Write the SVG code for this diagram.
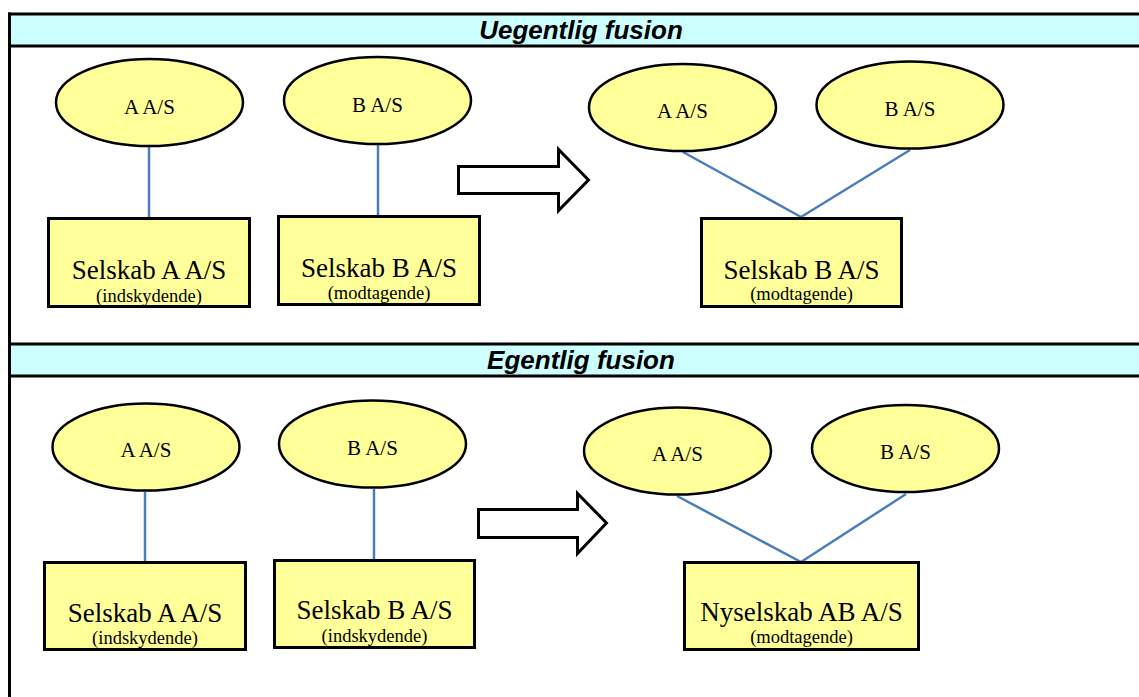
<svg xmlns="http://www.w3.org/2000/svg" width="1139" height="697" viewBox="0 0 1139 697">
  <style>
    .band { fill: #CCFFFF; stroke: none; }
    .rule { stroke: #000; stroke-width: 3; fill: none; }
    .title { font-family: "Liberation Sans", Arial, sans-serif; font-weight: bold; font-style: italic; font-size: 26px; fill: #000; text-anchor: middle; }
    .owner { fill: #FFFF99; stroke: #000; stroke-width: 2.5; }
    .company { fill: #FFFF99; stroke: #000; stroke-width: 3; }
    .lbl { font-family: "Liberation Serif", "Times New Roman", serif; font-size: 21px; fill: #000; text-anchor: middle; }
    .main { font-family: "Liberation Serif", "Times New Roman", serif; font-size: 27px; fill: #000; text-anchor: middle; }
    .sub { font-family: "Liberation Serif", "Times New Roman", serif; font-size: 18.5px; fill: #000; text-anchor: middle; }
    .link { stroke: #4A7EBB; stroke-width: 2.5; fill: none; }
    .arrow { fill: #FFFFFF; stroke: #000; stroke-width: 3; stroke-linejoin: miter; }
  </style>

  <rect width="1139" height="697" fill="#FFFFFF"/>

  <!-- Section frame and header bands -->
  <g id="frame">
    <rect class="band" x="9.5" y="14" width="1130" height="32"/>
    <rect class="band" x="9.5" y="344" width="1130" height="32"/>
    <line class="rule" x1="8" y1="14" x2="1139" y2="14"/>
    <line class="rule" x1="8" y1="46" x2="1139" y2="46"/>
    <line class="rule" x1="8" y1="344" x2="1139" y2="344"/>
    <line class="rule" x1="8" y1="376" x2="1139" y2="376"/>
    <line class="rule" x1="9.5" y1="12.5" x2="9.5" y2="697"/>
    <text class="title" x="581" y="39">Uegentlig fusion</text>
    <text class="title" x="581" y="369">Egentlig fusion</text>
  </g>

  <!-- Connectors -->
  <g id="connectors">
    <line class="link" x1="149" y1="147" x2="149" y2="217"/>
    <line class="link" x1="378" y1="145" x2="378" y2="215"/>
    <line class="link" x1="683" y1="152" x2="801" y2="217"/>
    <line class="link" x1="910" y1="150" x2="801" y2="217"/>
    <line class="link" x1="145" y1="492" x2="145" y2="561"/>
    <line class="link" x1="374" y1="489" x2="374" y2="559"/>
    <line class="link" x1="677" y1="496" x2="801" y2="562"/>
    <line class="link" x1="906" y1="494" x2="801" y2="562"/>
    <polygon id="arrow-top" class="arrow" points="458.5,166.5 558.5,166.5 558.5,149.5 588.5,180 558.5,210.5 558.5,193.5 458.5,193.5"/>
    <polygon id="arrow-bottom" class="arrow" points="478.5,509.5 577.5,509.5 577.5,493.5 606.5,523 577.5,553.5 577.5,537.5 478.5,537.5"/>
  </g>

  <!-- Uegentlig fusion: before -->
  <g id="u-owner-a">
    <ellipse class="owner" cx="149.5" cy="102.5" rx="93.5" ry="43.5"/>
    <text class="lbl" x="149.5" y="114">A A/S</text>
  </g>
  <g id="u-owner-b">
    <ellipse class="owner" cx="377.5" cy="100.5" rx="93.5" ry="43.5"/>
    <text class="lbl" x="377.5" y="112">B A/S</text>
  </g>
  <g id="u-company-a">
    <rect class="company" x="48.5" y="218.5" width="201" height="88"/>
    <text class="main" x="149" y="279">Selskab A A/S</text>
    <text class="sub" x="149" y="302">(indskydende)</text>
  </g>
  <g id="u-company-b">
    <rect class="company" x="278.5" y="216.5" width="201" height="88"/>
    <text class="main" x="379" y="277">Selskab B A/S</text>
    <text class="sub" x="379" y="299">(modtagende)</text>
  </g>

  <!-- Uegentlig fusion: after -->
  <g id="u-result-owner-a">
    <ellipse class="owner" cx="682.5" cy="107.5" rx="93.5" ry="43.5"/>
    <text class="lbl" x="682.5" y="118">A A/S</text>
  </g>
  <g id="u-result-owner-b">
    <ellipse class="owner" cx="910" cy="105" rx="93.5" ry="43.5"/>
    <text class="lbl" x="910" y="116">B A/S</text>
  </g>
  <g id="u-result-company">
    <rect class="company" x="701.5" y="218.5" width="200" height="88"/>
    <text class="main" x="801.5" y="279">Selskab B A/S</text>
    <text class="sub" x="801.5" y="300">(modtagende)</text>
  </g>

  <!-- Egentlig fusion: before -->
  <g id="e-owner-a">
    <ellipse class="owner" cx="146" cy="447" rx="93.5" ry="43.5"/>
    <text class="lbl" x="146" y="457">A A/S</text>
  </g>
  <g id="e-owner-b">
    <ellipse class="owner" cx="372.5" cy="444" rx="93.5" ry="43.5"/>
    <text class="lbl" x="372.5" y="455">B A/S</text>
  </g>
  <g id="e-company-a">
    <rect class="company" x="44.5" y="562.5" width="201" height="87"/>
    <text class="main" x="145" y="622">Selskab A A/S</text>
    <text class="sub" x="145" y="644">(indskydende)</text>
  </g>
  <g id="e-company-b">
    <rect class="company" x="274.5" y="560.5" width="200" height="87"/>
    <text class="main" x="374.5" y="619">Selskab B A/S</text>
    <text class="sub" x="374.5" y="642">(indskydende)</text>
  </g>

  <!-- Egentlig fusion: after -->
  <g id="e-result-owner-a">
    <ellipse class="owner" cx="677.5" cy="451" rx="93.5" ry="43.5"/>
    <text class="lbl" x="677.5" y="461">A A/S</text>
  </g>
  <g id="e-result-owner-b">
    <ellipse class="owner" cx="905.5" cy="448.5" rx="93.5" ry="43.5"/>
    <text class="lbl" x="905.5" y="459">B A/S</text>
  </g>
  <g id="e-result-company">
    <rect class="company" x="684.5" y="562.5" width="234" height="87"/>
    <text class="main" x="801.5" y="621">Nyselskab AB A/S</text>
    <text class="sub" x="801.5" y="643">(modtagende)</text>
  </g>
</svg>
